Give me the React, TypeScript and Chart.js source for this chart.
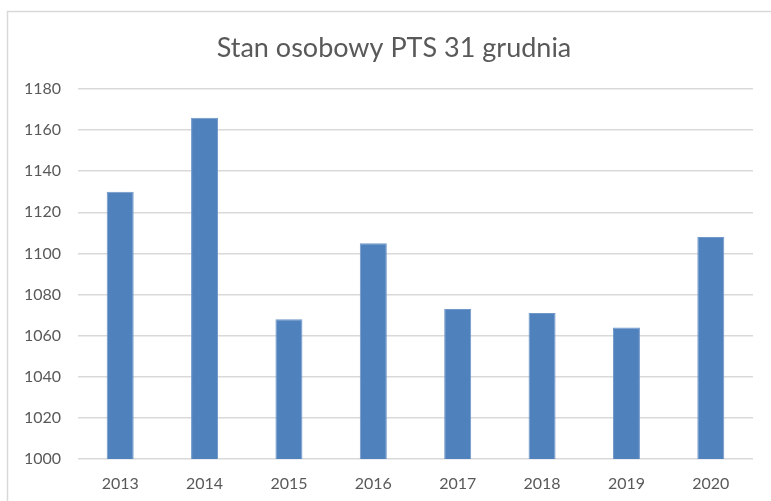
import React, { useEffect, useRef } from "react";
import { Chart, registerables } from "chart.js";

Chart.register(...registerables);

const categories = ["2013", "2014", "2015", "2016", "2017", "2018", "2019", "2020"];
const values = [1130, 1166, 1068, 1105, 1073, 1071, 1064, 1108];
const titleText = "Stan osobowy PTS 31 grudnia";
const yMin = 1000;
const yMax = 1180;
const yStep = 20;

const FONT = "Lato";
const TEXT_COLOR = "#595959";
const GRID_COLOR = "#d9d9d9";
const BAR_COLOR = "#4f81bd";

const frame = {
  id: "frame",
  beforeDraw(chart: any) {
    const ctx = chart.ctx;
    ctx.save();
    ctx.fillStyle = "#ffffff";
    ctx.fillRect(0, 0, chart.width, chart.height);
    ctx.strokeStyle = "#d9d9d9";
    ctx.lineWidth = 1.5;
    ctx.strokeRect(7.5, 11.5, chart.width + 20, chart.height + 20);
    ctx.restore();
  },
  afterDraw(chart: any) {
    const ctx = chart.ctx;
    ctx.save();
    ctx.fillStyle = TEXT_COLOR;
    ctx.font = `normal 27px ${FONT}`;
    ctx.textAlign = "center";
    ctx.textBaseline = "middle";
    ctx.fillText(titleText, 394, 48);
    ctx.restore();
  },
};

export default function App() {
  const ref = useRef<HTMLCanvasElement>(null);
  useEffect(() => {
    if (!ref.current) return;
    const chart = new Chart(ref.current, {
      type: "bar",
      data: {
        labels: categories,
        datasets: [
          {
            data: values,
            backgroundColor: BAR_COLOR,
            borderColor: "#6f97c9",
            borderWidth: 1,
            barPercentage: 0.32,
            categoryPercentage: 1,
          },
        ],
      },
      options: {
        responsive: false,
        animation: false,
        layout: { padding: { left: 0, right: 18, top: 89, bottom: 0 } },
        plugins: {
          legend: { display: false },
          tooltip: { enabled: false },
          title: { display: false },
        },
        scales: {
          x: {
            grid: { display: false, drawTicks: false },
            border: { display: false },
            ticks: {
              color: TEXT_COLOR,
              font: { family: FONT, size: 16 },
              padding: 15,
              maxRotation: 0,
            },
            afterFit(scale: any) {
              scale.height = 42;
            },
          },
          y: {
            min: yMin,
            max: yMax,
            grid: { color: GRID_COLOR, lineWidth: 1.5, drawTicks: false },
            border: { display: false },
            ticks: {
              stepSize: yStep,
              color: TEXT_COLOR,
              font: { family: FONT, size: 16 },
              padding: 17,
              callback: (v: any) => String(v),
            },
            afterFit(scale: any) {
              scale.width = 78;
            },
          },
        },
      },
      plugins: [frame],
    });
    return () => chart.destroy();
  }, []);
  return (
    <div style={{ position: "fixed", left: 0, top: 0, width: 771, height: 501 }}>
      <canvas ref={ref} width={771} height={501} />
    </div>
  );
}
